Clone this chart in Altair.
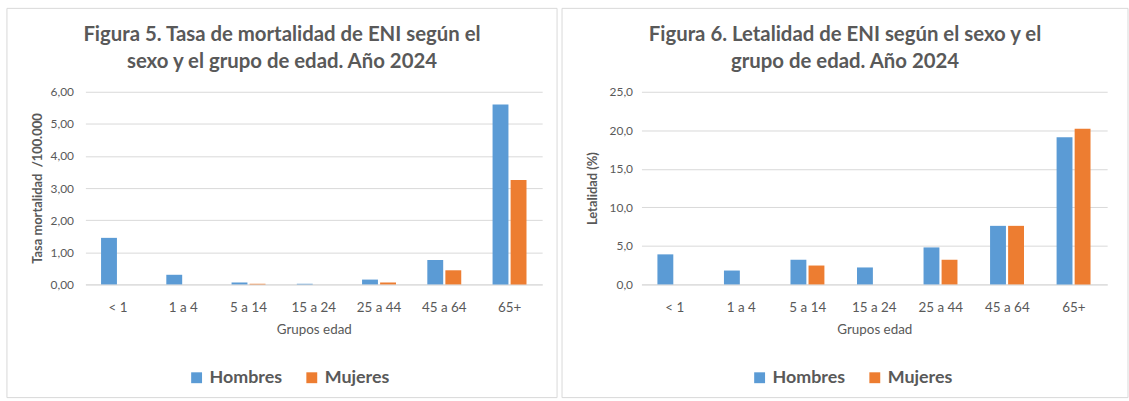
import altair as alt
import pandas as pd

grupos = ["< 1", "1 a 4", "5 a 14", "15 a 24", "25 a 44", "45 a 64", "65+"]
sexos = ["Hombres", "Mujeres"]

tasa_hombres = [1.45, 0.30, 0.06, 0.02, 0.15, 0.76, 5.60]
tasa_mujeres = [0.00, 0.00, 0.02, 0.00, 0.06, 0.44, 3.25]

letal_hombres = [3.9, 1.8, 3.2, 2.2, 4.8, 7.6, 19.1]
letal_mujeres = [0.0, 0.0, 2.45, 0.0, 3.2, 7.6, 20.2]

BLUE = "#5B9BD5"
ORANGE = "#ED7D31"
GRAY = "#595959"
GRID = "#D9D9D9"
FONT = "Lato"


def make_df(h, m):
    rows = []
    for g, vh, vm in zip(grupos, h, m):
        rows.append({"grupo": g, "sexo": "Hombres", "valor": vh})
        rows.append({"grupo": g, "sexo": "Mujeres", "valor": vm})
    return pd.DataFrame(rows)


def panel(df, title_lines, ytitle, ymax, ystep, fmt, width, height, box,
          legend_x, legend_y, ylab_pad, ytitle_pad):
    bx, bx2, by, by2 = box
    border = alt.Chart(alt.Data(values=[{}])).mark_rect(
        fill="white", fillOpacity=0, stroke=GRID, strokeWidth=1
    ).encode(
        x=alt.value(bx), x2=alt.value(bx2), y=alt.value(by), y2=alt.value(by2)
    )
    bars = alt.Chart(df).mark_bar().encode(
        x=alt.X(
            "grupo:N",
            sort=grupos,
            scale=alt.Scale(paddingInner=0.48, paddingOuter=0.24),
            axis=alt.Axis(
                title="Grupos edad",
                labelAngle=0,
                labelColor=GRAY,
                labelFontSize=13.5,
                labelFont=FONT,
                labelPadding=16,
                titleColor=GRAY,
                titleFontSize=13.5,
                titleFont=FONT,
                titleFontWeight="normal",
                titlePadding=9,
                domainColor=GRID,
                ticks=False,
            ),
        ),
        xOffset=alt.XOffset(
            "sexo:N", sort=sexos, scale=alt.Scale(paddingInner=0.12, paddingOuter=0)
        ),
        y=alt.Y(
            "valor:Q",
            scale=alt.Scale(domain=[0, ymax], nice=False),
            axis=alt.Axis(
                title=ytitle,
                values=[i * ystep for i in range(int(round(ymax / ystep)) + 1)],
                labelExpr=f"replace(format(datum.value, '{fmt}'), '.', ',')",
                labelColor=GRAY,
                labelFontSize=12,
                labelFont=FONT,
                labelPadding=ylab_pad,
                titleColor=GRAY,
                titleFontSize=13,
                titleFont=FONT,
                titleFontWeight="bold",
                titlePadding=ytitle_pad,
                domain=False,
                ticks=False,
                gridColor=GRID,
            ),
        ),
        color=alt.Color(
            "sexo:N",
            sort=sexos,
            scale=alt.Scale(domain=sexos, range=[BLUE, ORANGE]),
            legend=alt.Legend(
                title=None,
                orient="none",
                legendX=legend_x,
                legendY=legend_y,
                direction="horizontal",
                symbolType="square",
                symbolSize=120,
                symbolStrokeWidth=0,
                labelFontSize=18,
                labelFont=FONT,
                labelColor=GRAY,
                labelFontWeight="bold",
                columnPadding=20,
                labelOffset=4,
            ),
        ),
    )
    return alt.layer(border, bars).properties(
        width=width,
        height=height,
        title=alt.Title(
            title_lines,
            font=FONT,
            fontSize=20.5,
            fontWeight="bold",
            color=GRAY,
            anchor="middle",
            frame="bounds",
            lineHeight=27,
            offset=-65,
        ),
    )


left = panel(
    make_df(tasa_hombres, tasa_mujeres),
    ["Figura 5. Tasa de mortalidad de ENI según el", "sexo y el grupo de edad. Año 2024"],
    "Tasa mortalidad \u00a0/100.000",
    6.0, 1.0, ".2f", 460, 194,
    (-79, 475, -84, 308), 103, 279, 12, 6,
)
right = panel(
    make_df(letal_hombres, letal_mujeres),
    ["Figura 6. Letalidad de ENI según el sexo y el", "grupo de edad. Año 2024"],
    "Letalidad (%)",
    25.0, 5.0, ".1f", 469, 194,
    (-80, 490, -84, 308), 110, 279, 9, 10,
)

chart = alt.hconcat(left, right, spacing=3).resolve_scale(
    color="independent", x="independent", y="independent"
).resolve_legend(color="independent").properties(
    padding={"left": 6, "top": 6, "right": 0, "bottom": 2},
    background="white",
).configure_view(stroke=None)

chart.save("out.html", embed_options={"renderer": "svg", "actions": False})
